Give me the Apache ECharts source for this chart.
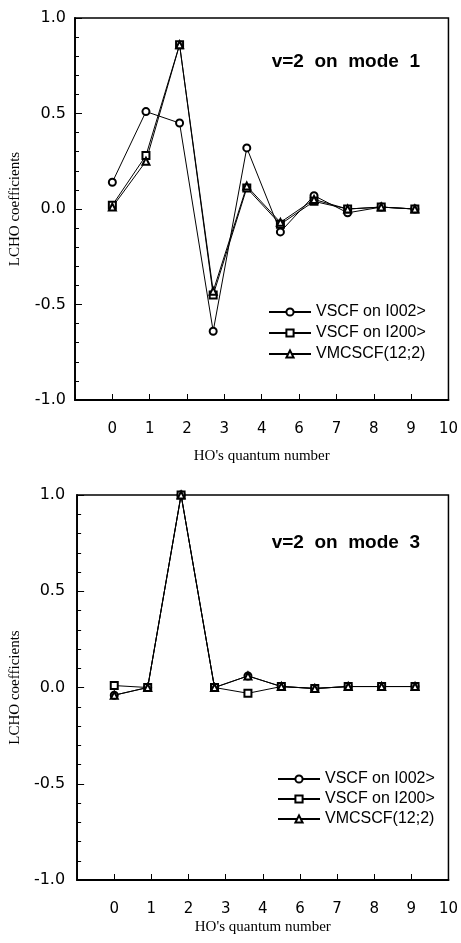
<!DOCTYPE html>
<html>
<head>
<meta charset="utf-8">
<script src="https://cdn.jsdelivr.net/npm/echarts@6/dist/echarts.min.js"></script>
<style>
    html, body { margin: 0; padding: 0; background: #fff; }
    #main { width: 461px; height: 943px; }
</style>
</head>
<body>
<div id="main"></div>
<script>
//----------- Data
const quantumNumbers = [0, 1, 2, 3, 4, 5, 6, 7, 8, 9];

//v=2 on mode 1
const mode1I002 = [0.14, 0.51, 0.45, -0.64, 0.32, -0.12, 0.07, -0.02, 0.01, 0.00];
const mode1I200 = [0.02, 0.28, 0.86, -0.45, 0.11, -0.08, 0.04, 0.00, 0.01, 0.00];
const mode1Vmcscf = [0.01, 0.25, 0.86, -0.43, 0.12, -0.07, 0.05, 0.00, 0.01, 0.00];

//v=2 on mode 3
const mode3I002 = [-0.04, 0.00, 1.00, 0.00, 0.06, 0.005, -0.005, 0.005, 0.005, 0.005];
const mode3I200 = [0.01, 0.00, 1.00, 0.00, -0.03, 0.005, -0.005, 0.005, 0.005, 0.005];
const mode3Vmcscf = [-0.04, 0.00, 1.00, 0.00, 0.06, 0.005, -0.005, 0.005, 0.005, 0.005];

const seriesNames = ["VSCF on I002>", "VSCF on I200>", "VMCSCF(12;2)"];
const seriesSymbols = ["emptyCircle", "emptyRect", "emptyTriangle"];
const panelTitles = ["v=2  on  mode  1", "v=2  on  mode  3"];

//tick labels as printed (the ticks sit every 10/9 units, labels rounded)
const xTickLabels = ["0", "1", "2", "3", "4", "6", "7", "8", "9", "10"];
const yTickLabels = ["-1.0", "-0.5", "0.0", "0.5", "1.0"];
//----------- Data

const myChart = echarts.init(document.getElementById("main"));

const panels = [
    {values: [mode1I002, mode1I200, mode1Vmcscf], grid: {left: 72, right: 12, top: 18, height: 382}, labelMargin: 9, nameGap: 49, legendLeft: 263, legendTop: 299, legendGap: 5, titleTop: 47},
    {values: [mode3I002, mode3I200, mode3Vmcscf], grid: {left: 75, right: 9, top: 495, height: 385}, labelMargin: 12, nameGap: 40, legendLeft: 272, legendTop: 766, legendGap: 4, titleTop: 528}
];

const black = "#000";
const tickStep = 10 / 9;

const option = {
    backgroundColor: "#fff",
    animation: false,
    title: panels.map((p, i) => ({
        text: panelTitles[i],
        right: 36,
        top: p.titleTop,
        textStyle: {fontFamily: "Liberation Sans", fontWeight: "bold", fontSize: 19, color: black}
    })),
    legend: panels.map(p => ({
        orient: "vertical",
        left: p.legendLeft,
        top: p.legendTop,
        itemWidth: 42,
        itemHeight: 9,
        itemGap: p.legendGap,
        selectedMode: false,
        data: seriesNames,
        textStyle: {fontFamily: "Liberation Sans", fontSize: 16, color: black}
    })),
    grid: panels.map(p => Object.assign({
        show: true,
        borderColor: black,
        borderWidth: 1.5,
        containLabel: false
    }, p.grid)),
    xAxis: panels.map((p, i) => ({
        type: "value",
        gridIndex: i,
        min: -tickStep,
        max: 10,
        interval: tickStep,
        name: "HO's quantum number",
        nameLocation: "middle",
        nameGap: p.nameGap,
        nameTextStyle: {fontFamily: "Liberation Serif", fontSize: 15, color: black},
        axisLine: {onZero: false, lineStyle: {color: black, width: 1.8}},
        axisTick: {inside: true, length: 6, lineStyle: {color: black, width: 1}},
        axisLabel: {
            margin: 22,
            fontFamily: "DejaVu Sans",
            fontSize: 15,
            color: black,
            formatter: (value, index) => index === 0 ? "" : xTickLabels[index - 1]
        },
        splitLine: {show: false}
    })),
    yAxis: panels.map((p, i) => ({
        type: "value",
        gridIndex: i,
        min: -1,
        max: 1,
        interval: 0.5,
        name: "LCHO coefficients",
        nameLocation: "middle",
        nameGap: 52,
        nameTextStyle: {fontFamily: "Liberation Serif", fontSize: 15, color: black},
        axisLine: {onZero: false, lineStyle: {color: black, width: 1.8}},
        axisTick: {inside: true, length: 7, lineStyle: {color: black, width: 1}},
        minorTick: {show: true, splitNumber: 5, length: 4, lineStyle: {color: black, width: 1}},
        axisLabel: {
            margin: p.labelMargin,
            fontFamily: "DejaVu Sans",
            fontSize: 16,
            color: black,
            formatter: value => yTickLabels[Math.round((value + 1) / 0.5)]
        },
        splitLine: {show: false}
    })),
    series: []
};

//one line series per method and panel
panels.forEach((p, i) => {
    p.values.forEach((vals, k) => {
        option.series.push({
            name: seriesNames[k],
            type: "line",
            xAxisIndex: i,
            yAxisIndex: i,
            symbol: seriesSymbols[k],
            symbolSize: 7,
            lineStyle: {color: black, width: 1},
            itemStyle: {color: black, borderWidth: 1},
            data: quantumNumbers.map((q, j) => [q, vals[j]])
        });
    });
});

myChart.setOption(option);
</script>
</body>
</html>
